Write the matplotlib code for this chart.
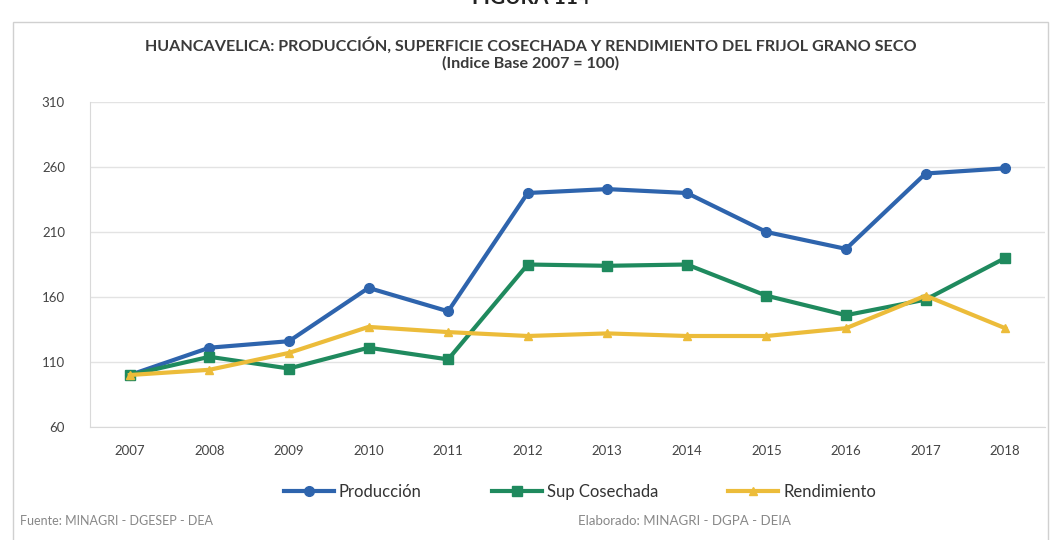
import matplotlib.pyplot as plt
from matplotlib.patches import Rectangle

plt.rcParams['font.family'] = ['Lato', 'DejaVu Sans']

years = ['2007', '2008', '2009', '2010', '2011', '2012',
         '2013', '2014', '2015', '2016', '2017', '2018']
produccion = [100, 121, 126, 167, 149, 240, 243, 240, 210, 197, 255, 259]
sup_cosechada = [100, 114, 105, 121, 112, 185, 184, 185, 161, 146, 158, 190]
rendimiento = [100, 104, 117, 137, 133, 130, 132, 130, 130, 136, 161, 136]
yticks = [60, 110, 160, 210, 260, 310]

fig = plt.figure(figsize=(10.62, 5.4), dpi=100)

# marco del grafico
fig.patches.append(Rectangle((13 / 1062, -0.01), 1035 / 1062, 1 - 22 / 540 + 0.01,
                             transform=fig.transFigure, fill=False,
                             edgecolor='#d0d0d0', lw=1))

ax = fig.add_axes([90 / 1062, 1 - 427 / 540, 955 / 1062, 325 / 540])
x = range(len(years))
ax.plot(x, produccion, color='#2e64ad', lw=3, marker='o', ms=7, label='Producción')
ax.plot(x, sup_cosechada, color='#1f8a5e', lw=3, marker='s', ms=7, label='Sup Cosechada')
ax.plot(x, rendimiento, color='#ecbc3a', lw=3, marker='^', ms=6, label='Rendimiento')

ax.set_xlim(-0.5, len(years) - 0.5)
ax.set_ylim(60, 310)
ax.set_yticks(yticks)
ax.set_xticks(list(x))
ax.set_xticklabels(years)
ax.grid(axis='y', color='#e3e3e3', lw=1)
ax.set_axisbelow(True)
for s in ['top', 'right']:
    ax.spines[s].set_visible(False)
ax.spines['left'].set_color('#d9d9d9')
ax.spines['bottom'].set_color('#d9d9d9')
ax.tick_params(axis='y', length=0, pad=18, labelsize=9.5, labelcolor='#444444')
ax.tick_params(axis='x', length=0, pad=13, labelsize=9.5, labelcolor='#444444')

# encabezado cortado en el borde superior, como en el original
fig.text(0.5, 1.003, 'FIGURA 114', ha='center', va='center', fontsize=15,
         fontweight='bold', color='#222222')
fig.text(0.5, 1 - 45 / 540, 'HUANCAVELICA: PRODUCCIÓN, SUPERFICIE COSECHADA Y RENDIMIENTO DEL FRIJOL GRANO SECO',
         ha='center', va='center', fontsize=11.6, fontweight='bold', color='#3a3a3a')
fig.text(0.5, 1 - 63 / 540, '(Indice Base 2007 = 100)', ha='center', va='center',
         fontsize=11.6, fontweight='bold', color='#3a3a3a')

fig.legend(loc='center', bbox_to_anchor=(580 / 1062, 1 - 492 / 540), ncol=3, frameon=False,
           fontsize=12, handlelength=3, handletextpad=0.3, columnspacing=4.2,
           labelcolor='#333333')

fig.text(20 / 1062, 1 - 521 / 540, 'Fuente: MINAGRI - DGESEP - DEA', ha='left', va='center',
         fontsize=9, color='#888888')
fig.text(578 / 1062, 1 - 521 / 540, 'Elaborado: MINAGRI - DGPA - DEIA', ha='left', va='center',
         fontsize=9.5, color='#888888')

fig.savefig('out.png', dpi=100)
